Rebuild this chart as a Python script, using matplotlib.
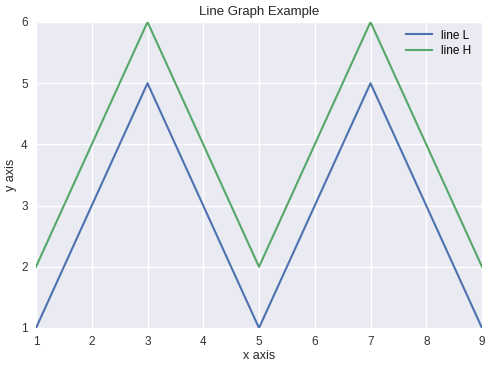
import matplotlib
matplotlib.use("Agg")
import matplotlib.pyplot as plt

x = [1, 2, 3, 4, 5, 6, 7, 8, 9]
line_l = [1, 3, 5, 3, 1, 3, 5, 3, 1]
line_h = [2, 4, 6, 4, 2, 4, 6, 4, 2]

plt.rcParams['font.family'] = ['Liberation Sans', 'DejaVu Sans']
fig = plt.figure(figsize=(4.92, 3.68), dpi=100)
ax = fig.add_axes([36/492, 40/368, 446/492, 306/368])
ax.set_facecolor('#EAEAF2')
ax.grid(True, color='white', linewidth=1)
ax.set_axisbelow(True)
for s in ax.spines.values():
    s.set_visible(False)
ax.tick_params(length=0, labelsize=8.5, colors='#333333', pad=6)

ax.plot(x, line_l, color='#4C72B0', linewidth=1.5, label='line L')
ax.plot(x, line_h, color='#55A868', linewidth=1.5, label='line H')
ax.set_xlim(1, 9)
ax.set_ylim(1, 6)
ax.set_xticks(range(1, 10))
ax.set_yticks(range(1, 7))
ax.set_title('Line Graph Example', fontsize=9.5, color='#262626', pad=5)
ax.set_xlabel('x axis', fontsize=9, color='#262626', labelpad=1.5)
ax.set_ylabel('y axis', fontsize=9, color='#262626', labelpad=3)
ax.legend(loc='upper right', frameon=False, fontsize=8.5,
          bbox_to_anchor=(1.0, 1.01), handlelength=2.2, labelspacing=0.3)
fig.savefig('out.png', dpi=100)
